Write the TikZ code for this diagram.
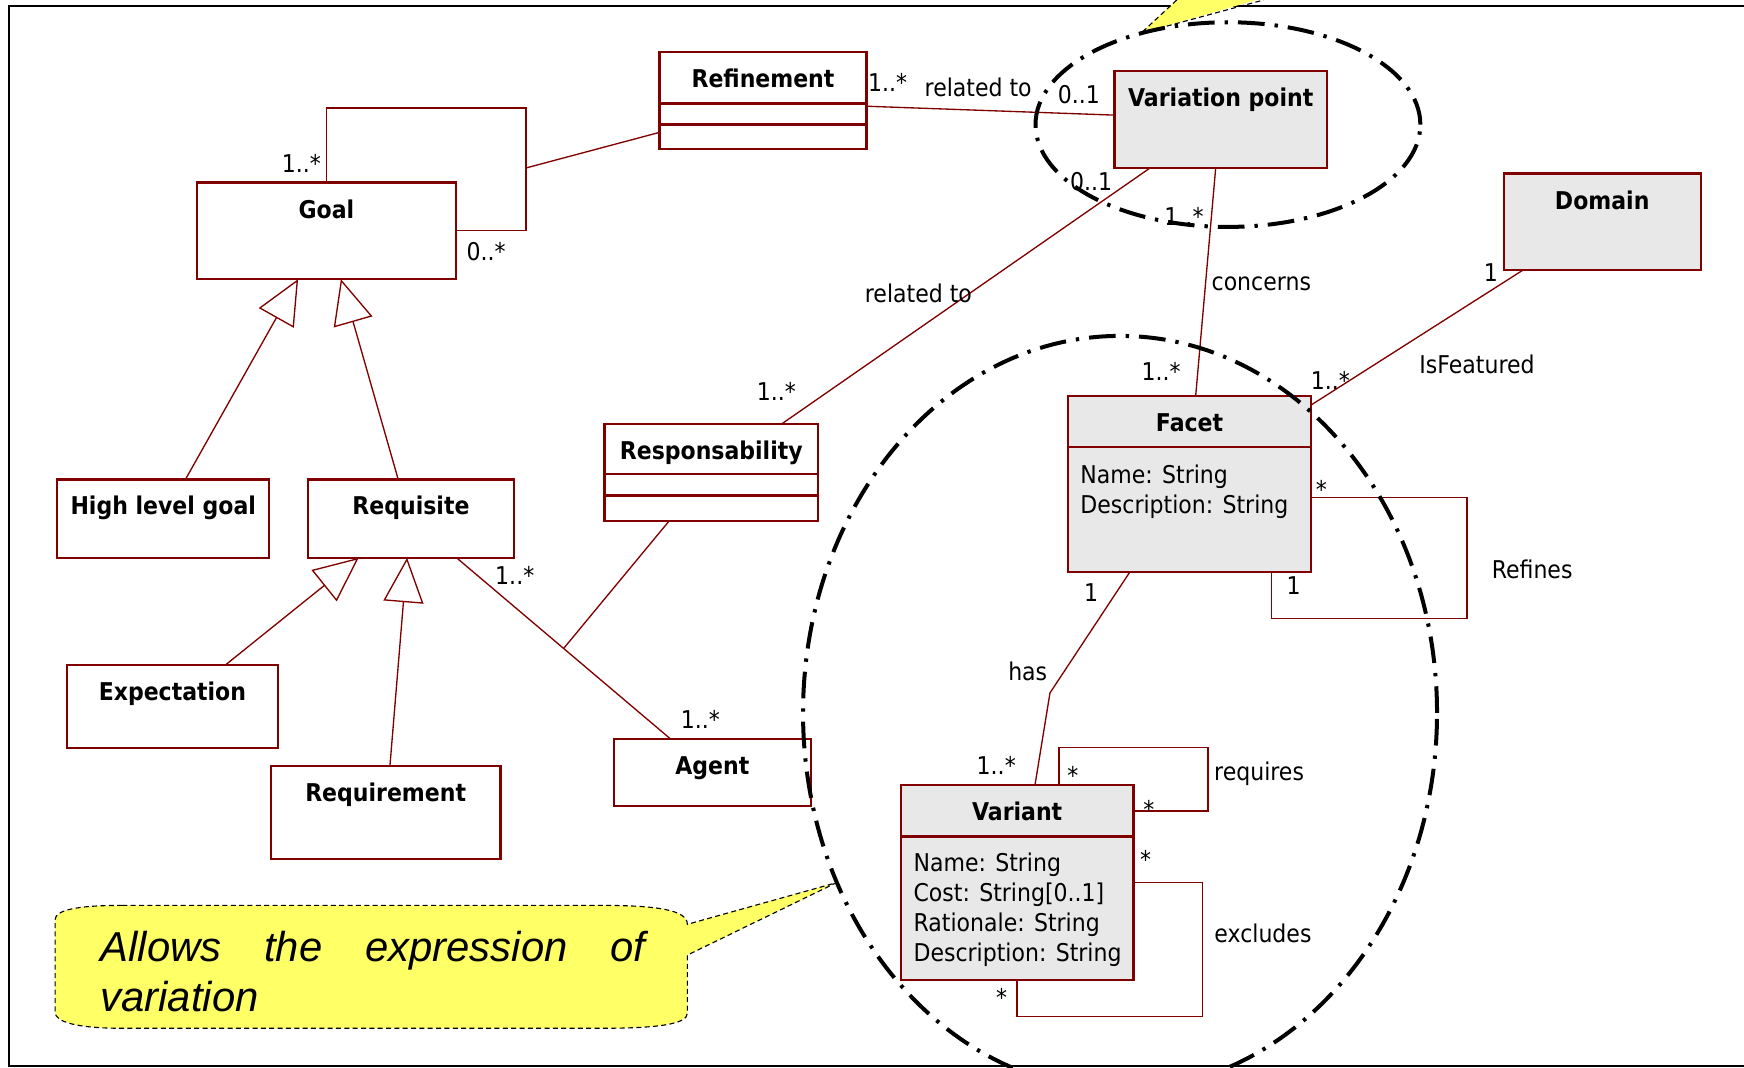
\documentclass[tikz,border=0pt]{standalone}
\usepackage{fontspec}
\setmainfont{DejaVu Sans}[FakeStretch=0.9]
\newfontfamily\notefont{Liberation Sans}
\usepackage{tikz}
\usetikzlibrary{arrows.meta}
\definecolor{umlred}{RGB}{128,0,0}
\definecolor{umlgray}{RGB}{232,232,232}
\definecolor{noteyellow}{RGB}{255,255,102}

\begin{document}
\begin{tikzpicture}[x=0.5pt,y=-0.5pt]
\tikzset{
  cls/.style={draw=umlred, line width=1pt, fill=white, inner sep=0pt, outer sep=0pt},
  clsgray/.style={cls, fill=umlgray},
  sep/.style={draw=umlred, line width=1pt},
  ttl/.style={font=\fontsize{11}{13}\selectfont\bfseries, anchor=base, inner sep=0pt},
  attr/.style={font=\fontsize{11}{13.5}\selectfont, align=left, anchor=west, inner sep=0pt},
  lbl/.style={font=\fontsize{11}{13}\selectfont, inner sep=0pt, text height=8pt, text depth=2pt},
  assoc/.style={draw=umlred, line width=0.6pt},
  gen/.style={assoc, -{Triangle[open, length=20pt, width=18pt]}},
  hull/.style={line width=1.8pt, dash pattern=on 12pt off 4.5pt on 1.5pt off 4.5pt},
  note/.style={fill=noteyellow, draw=black, line width=0.5pt, dash pattern=on 2.25pt off 1.5pt},
  notetext/.style={anchor=base west, inner sep=0pt, font=\notefont\itshape\fontsize{18.8}{22.5}\selectfont}
}
\useasboundingbox (0,0) rectangle (1568,960);
\clip (0,0) rectangle (1568,960);

\draw[line width=0.9pt] (1580,5) -- (8,5) -- (8,958) -- (1580,958);
\fill[noteyellow] (1063,-5) -- (1026,29.7) -- (1147,-5) -- cycle;
\draw[note, fill=none] (1058,0) -- (1026,29.7) -- (1136,0);

\node[cls, minimum width=93pt, minimum height=43.5pt] (ref) at (686,90.5) {};
\draw[sep] ([yshift=-23pt]ref.north west) -- ([yshift=-23pt]ref.north east)
  ([yshift=-32.5pt]ref.north west) -- ([yshift=-32.5pt]ref.north east);
\node[ttl] (ref-t) at ([yshift=-16pt]ref.north) {Refinement};

\node[cls, minimum width=116.5pt, minimum height=43.5pt] (goal) at (293.5,207.5) {};
\node[ttl] (goal-t) at ([yshift=-16pt]goal.north) {Goal};

\node[clsgray, minimum width=95.5pt, minimum height=43.5pt] (vp) at (1097.5,107.5) {};
\node[ttl] (vp-t) at ([yshift=-16pt]vp.north) {Variation point};

\node[clsgray, minimum width=88.5pt, minimum height=43.5pt] (domain) at (1440.5,199.5) {};
\node[ttl] (domain-t) at ([yshift=-16pt]domain.north) {Domain};

\node[clsgray, minimum width=109.5pt, minimum height=79pt] (facet) at (1069.5,435) {};
\draw[sep] ([yshift=-23pt]facet.north west) -- ([yshift=-23pt]facet.north east);
\node[ttl] (facet-t) at ([yshift=-16pt]facet.north) {Facet};
\node[attr] (facet-a) at (971,441.8) {Name: String\\Description: String};

\node[clsgray, minimum width=104.5pt, minimum height=87.5pt] (variant) at (914.5,793.5) {};
\draw[sep] ([yshift=-23pt]variant.north west) -- ([yshift=-23pt]variant.north east);
\node[ttl] (variant-t) at ([yshift=-16pt]variant.north) {Variant};
\node[attr] (variant-a) at (821,818.3) {Name: String\\Cost: String[0..1]\\Rationale: String\\Description: String};

\node[cls, minimum width=96pt, minimum height=43.75pt] (resp) at (639.5,424.75) {};
\draw[sep] ([yshift=-22.5pt]resp.north west) -- ([yshift=-22.5pt]resp.north east)
  ([yshift=-32.25pt]resp.north west) -- ([yshift=-32.25pt]resp.north east);
\node[ttl] (resp-t) at ([yshift=-16pt]resp.north) {Responsability};

\node[cls, minimum width=95.25pt, minimum height=35.25pt] (hlg) at (146.75,466.25) {};
\node[ttl] (hlg-t) at ([yshift=-16pt]hlg.north) {High level goal};

\node[cls, minimum width=92.5pt, minimum height=35.25pt] (req) at (369.5,466.25) {};
\node[ttl] (req-t) at ([yshift=-16pt]req.north) {Requisite};

\node[cls, minimum width=95pt, minimum height=37.5pt] (exp) at (155,635.1) {};
\node[ttl] (exp-t) at ([yshift=-16pt]exp.north) {Expectation};

\node[cls, minimum width=103.25pt, minimum height=41.8pt] (reqm) at (346.75,730.8) {};
\node[ttl] (reqm-t) at ([yshift=-16pt]reqm.north) {Requirement};

\node[cls, minimum width=88.5pt, minimum height=30.15pt] (agent) at (640.5,694.65) {};
\node[ttl] (agent-t) at ([yshift=-16pt]agent.north) {Agent};

\draw[assoc] (goal.north) |- (473,97) |- (goal.east);
\coordinate (gloop) at (473,151);
\draw[assoc] (gloop) -- ([yshift=-14.25pt]ref.west);
\draw[assoc] ([yshift=-2.5pt]ref.east) -- ([yshift=2pt]vp.west);
\draw[assoc] ([xshift=-31.75pt]vp.south) -- ([xshift=31.75pt]resp.north);
\draw[assoc] ([xshift=-2.25pt]vp.south) -- ([xshift=2.75pt]facet.north);
\draw[assoc] ([xshift=-35.75pt]domain.south) -- ([yshift=-4pt]facet.north east);
\draw[assoc] ([yshift=-6.2pt]facet.east) -| (1319,556) -| ([xshift=36.75pt]facet.south);
\draw[assoc] ([xshift=-26.75pt]facet.south) -- (944,623) -- ([xshift=8pt]variant.north);
\draw[assoc] ([xshift=18.75pt]variant.north) |- (1086,672) |- ([yshift=32.25pt]variant.east);
\draw[assoc] (variant.east) -| (1081,914) -| (variant.south);
\draw[assoc] ([xshift=20.5pt]req.south) -- coordinate[pos=0.5] (ra) ([xshift=-18.75pt]agent.north);
\draw[assoc] ([xshift=-19pt]resp.south) -- (ra);

\draw[gen] ([xshift=10pt]hlg.north) -- ([xshift=-12.75pt]goal.south);
\draw[gen] ([xshift=-5.75pt]req.north) -- ([xshift=6.5pt]goal.south);
\draw[gen] ([xshift=24pt]exp.north) -- ([xshift=-23.5pt]req.south);
\draw[gen] ([xshift=1.9pt]reqm.north) -- ([xshift=-1.75pt]req.south);

\node[lbl] (m-goal-a) at (271,149) {1..*};
\node[lbl] (m-goal-b) at (437,228) {0..*};
\node[lbl] (m-ref) at (798,76.5) {1..*};
\node[lbl] (n-rel1) at (879.5,81) {related to};
\node[lbl] (m-vp-a) at (970,87) {0..1};
\node[lbl] (m-vp-b) at (981,165) {0..1};
\node[lbl] (m-vp-c) at (1064.5,197) {1..*};
\node[lbl] (n-rel2) at (825.7,266) {related to};
\node[lbl] (m-resp) at (698,354.5) {1..*};
\node[lbl] (n-conc) at (1134,255) {concerns};
\node[lbl] (m-facet-a) at (1044,336) {1..*};
\node[lbl] (m-dom) at (1340.5,247.5) {1};
\node[lbl] (m-facet-b) at (1196,344) {1..*};
\node[lbl] (n-feat) at (1328,330) {IsFeatured};
\node[lbl] (m-refs-a) at (1188,442) {*};
\node[lbl] (m-refs-b) at (1163,528.5) {1};
\node[lbl] (n-refines) at (1377.5,514) {Refines};
\node[lbl] (m-has-a) at (981,534.5) {1};
\node[lbl] (n-has) at (924,605.5) {has};
\node[lbl] (m-has-b) at (895.7,690.5) {1..*};
\node[lbl] (m-rq-a) at (964.5,699.5) {*};
\node[lbl] (m-rq-b) at (1033,729.8) {*};
\node[lbl] (n-requires) at (1132,696) {requires};
\node[lbl] (m-ex-a) at (1030,775) {*};
\node[lbl] (n-excludes) at (1135.5,841) {excludes};
\node[lbl] (m-ex-b) at (900.6,898.8) {*};
\node[lbl] (m-ra-a) at (462.8,519.6) {1..*};
\node[lbl] (m-ra-b) at (629.7,649) {1..*};

\draw[hull] (1104,112) ellipse [x radius=86.5pt, y radius=46pt];
\draw[hull] (1007,641) ellipse [x radius=142.5pt, y radius=169.5pt];

\draw[note] (110,814) -- (540,814) .. controls (590,814) and (618,818) .. (618,831)
  -- (752,793.6) -- (618,858.7) -- (618,911) .. controls (618,921) and (590,924.5) .. (540,924.5)
  -- (110,924.5) .. controls (70,924.5) and (49.5,919) .. (49.5,910)
  -- (49.5,827) .. controls (49.5,818) and (70,814) .. (110,814) -- cycle;
\node[notetext] (note-l1) at (90,864) {\makebox[245pt][s]{Allows the expression of}};
\node[notetext] (note-l2) at (90,909) {variation};
\end{tikzpicture}
\end{document}
